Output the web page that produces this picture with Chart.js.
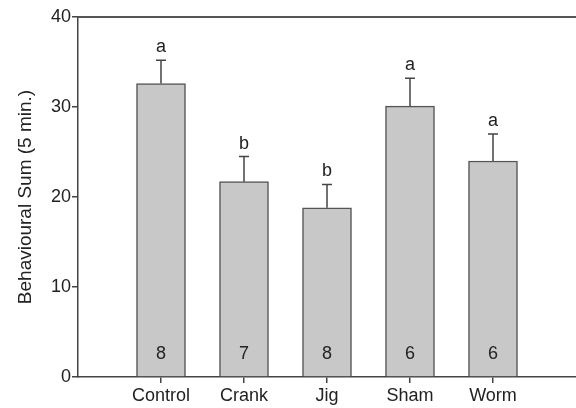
<!DOCTYPE html>
<html>
<head>
<meta charset="utf-8">
<script src="https://cdn.jsdelivr.net/npm/chart.js@4"></script>
<style>
  html, body { margin: 0; padding: 0; background: #fff; }
  #wrap { width: 576px; height: 408px; }
</style>
</head>
<body>
<div id="wrap"><canvas id="chartSum"></canvas></div>
<script>
// datos
const categories = ['Control', 'Crank', 'Jig', 'Sham', 'Worm'];
const positions = [1, 2, 3, 4, 5];
const means = [32.6, 21.7, 18.8, 30.1, 24.0];
const errors = [2.6, 2.8, 2.6, 3.1, 3.0];
const letters = ['a', 'b', 'b', 'a', 'a'];
const counts = [8, 7, 8, 6, 6];
const yTicks = [0, 10, 20, 30, 40];

const axisColor = '#444';
const fontFamily = 'Arial, "Liberation Sans", sans-serif';

// barras de error, letras y n
const extras = {
    id: 'extras',
    afterDatasetsDraw(chart) {
        const { ctx, scales: { x, y }, chartArea } = chart;
        ctx.save();
        // línea superior del marco
        ctx.strokeStyle = '#555';
        ctx.lineWidth = 2;
        ctx.beginPath();
        ctx.moveTo(chartArea.left, chartArea.top);
        ctx.lineTo(chartArea.right, chartArea.top);
        ctx.stroke();

        ctx.strokeStyle = '#444';
        ctx.lineWidth = 1.5;
        ctx.fillStyle = '#222';
        ctx.font = '18px ' + fontFamily;
        ctx.textAlign = 'center';
        positions.forEach((p, i) => {
            const px = x.getPixelForValue(p);
            const top = y.getPixelForValue(means[i]);
            const cap = y.getPixelForValue(means[i] + errors[i]);
            ctx.beginPath();
            ctx.moveTo(px, top);
            ctx.lineTo(px, cap);
            ctx.moveTo(px - 5, cap);
            ctx.lineTo(px + 5, cap);
            ctx.stroke();
            ctx.textBaseline = 'alphabetic';
            ctx.fillText(letters[i], px, cap - 8);
            ctx.fillText(String(counts[i]), px, y.getPixelForValue(0) - 18);
        });
        ctx.restore();
    }
};

document.addEventListener('DOMContentLoaded', function () {
    const ctx = document.getElementById('chartSum').getContext('2d');
    new Chart(ctx, {
        type: 'bar',
        data: {
            datasets: [{
                data: positions.map((p, i) => ({ x: p, y: means[i] })),
                backgroundColor: '#c8c8c8',
                borderColor: '#555',
                borderWidth: 1.5,
                barThickness: 49
            }]
        },
        options: {
            responsive: true,
            maintainAspectRatio: false,
            animation: false,
            layout: { padding: { top: 17, right: 0, left: 0, bottom: 0 } },
            plugins: {
                legend: { display: false },
                tooltip: { enabled: false }
            },
            scales: {
                x: {
                    type: 'linear',
                    min: 0,
                    max: 6,
                    offset: false,
                    afterBuildTicks: (scale) => {
                        scale.ticks = positions.map(v => ({ value: v }));
                    },
                    afterFit: (scale) => { scale.height = 31; },
                    grid: { offset: false, drawOnChartArea: false, color: axisColor, tickLength: 6, lineWidth: 1.5 },
                    border: { color: axisColor, width: 1.5 },
                    ticks: {
                        color: '#222',
                        padding: 2,
                        maxRotation: 0,
                        font: { family: fontFamily, size: 18 },
                        callback: (v) => categories[v - 1]
                    }
                },
                y: {
                    min: 0,
                    max: 40,
                    afterBuildTicks: (scale) => {
                        scale.ticks = yTicks.map(v => ({ value: v }));
                    },
                    afterFit: (scale) => { scale.width = 78; },
                    grid: { drawOnChartArea: false, color: axisColor, tickLength: 6, lineWidth: 1.5 },
                    border: { color: axisColor, width: 1.5 },
                    ticks: {
                        color: '#222',
                        padding: 1,
                        font: { family: fontFamily, size: 18 }
                    },
                    title: {
                        display: true,
                        text: 'Behavioural Sum (5 min.)',
                        color: '#222',
                        padding: { top: 14, bottom: 0 },
                        font: { family: fontFamily, size: 19 }
                    }
                }
            }
        },
        plugins: [extras]
    });
});
</script>
</body>
</html>
